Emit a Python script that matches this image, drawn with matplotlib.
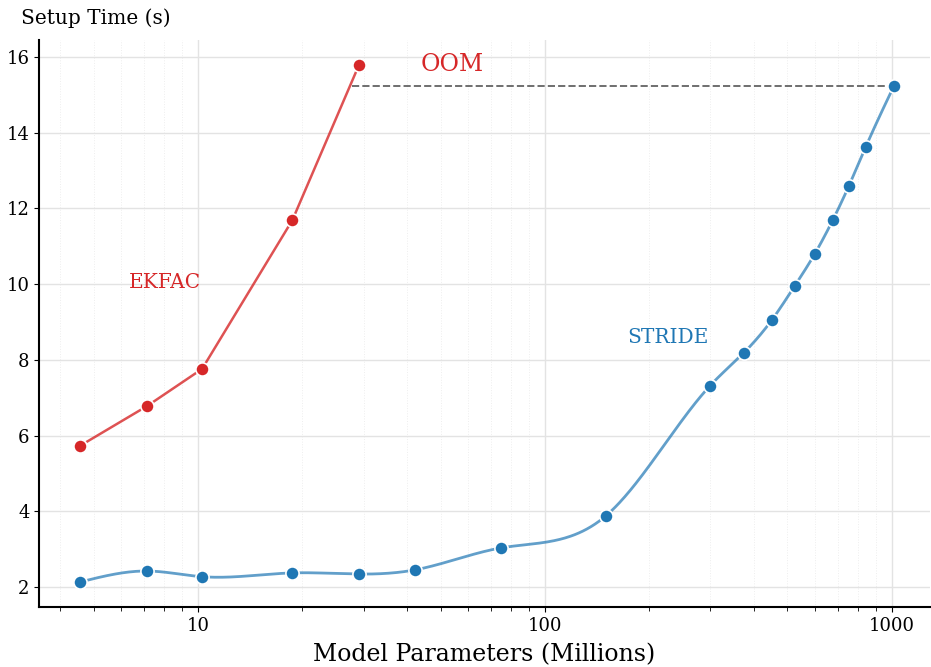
import numpy as np
import matplotlib.pyplot as plt
from matplotlib.ticker import FixedLocator, NullFormatter

plt.rcParams['font.family'] = 'DejaVu Serif'

# EKFAC runs out of memory past ~29M params
ekfac_params = [4.57, 7.13, 10.27, 18.7, 29.1]
ekfac_time = [5.73, 6.78, 7.76, 11.69, 15.79]

stride_params = [4.57, 7.13, 10.27, 18.7, 29.1, 42.2, 74.7, 150, 299, 374,
                 451, 525, 600, 676, 752, 841, 1014]
stride_time = [2.13, 2.42, 2.27, 2.37, 2.34, 2.45, 3.03, 3.88, 7.31, 8.18,
               9.05, 9.95, 10.80, 11.69, 12.59, 13.62, 15.23]

blue = '#1f77b4'
red = '#d62728'


def natural_spline(x, y, xs):
    """
    natural cubic spline through (x, y), evaluated at xs
    """
    x = np.asarray(x, float)
    y = np.asarray(y, float)
    n = len(x)
    h = np.diff(x)
    A = np.zeros((n, n))
    b = np.zeros(n)
    A[0, 0] = 1.0
    A[-1, -1] = 1.0
    for i in range(1, n - 1):
        A[i, i - 1] = h[i - 1]
        A[i, i] = 2 * (h[i - 1] + h[i])
        A[i, i + 1] = h[i]
        b[i] = 3 * ((y[i + 1] - y[i]) / h[i] - (y[i] - y[i - 1]) / h[i - 1])
    c = np.linalg.solve(A, b)
    bb = (y[1:] - y[:-1]) / h - h * (2 * c[:-1] + c[1:]) / 3
    d = (c[1:] - c[:-1]) / (3 * h)
    idx = np.clip(np.searchsorted(x, xs) - 1, 0, n - 2)
    dx = xs - x[idx]
    return y[idx] + bb[idx] * dx + c[idx] * dx**2 + d[idx] * dx**3


fig = plt.figure(figsize=(9.31, 6.67), dpi=100)
ax = fig.add_axes([0.042, 0.09, 0.957, 0.85])

lx = np.log10(stride_params)
xs = np.linspace(lx[0], lx[-1], 600)
ax.plot(10**xs, natural_spline(lx, stride_time, xs), color=blue, alpha=0.7,
        lw=2, zorder=2)
ax.plot(stride_params, stride_time, 'o', color=blue, ms=9.5,
        markeredgecolor='white', markeredgewidth=1.2, zorder=3)

ax.plot(ekfac_params, ekfac_time, '-', color=red, alpha=0.8, lw=1.8, zorder=2)
ax.plot(ekfac_params, ekfac_time, 'o', color=red, ms=9.5,
        markeredgecolor='white', markeredgewidth=1.2, zorder=3)

# OOM gap line, starts just left of the last EKFAC point
ax.plot([ekfac_params[-1] * 0.955, stride_params[-1]],
        [stride_time[-1], stride_time[-1]],
        '--', color='#555555', lw=1.4, alpha=0.85, zorder=1)

ax.text(54, 15.8, 'OOM', color=red, fontsize=17, ha='center', va='center')
ax.text(8.03, 10.03, 'EKFAC', color=red, fontsize=14.5, ha='center', va='center')
ax.text(226, 8.58, 'STRIDE', color=blue, fontsize=14.5, ha='center', va='center')

ax.set_xscale('log')
ax.set_xlim(3.48, 1290)
ax.set_ylim(1.47, 16.45)
ax.xaxis.set_major_locator(FixedLocator([10, 100, 1000]))
ax.set_xticklabels(['10', '100', '1000'])
ax.xaxis.set_minor_formatter(NullFormatter())
ax.set_yticks([2, 4, 6, 8, 10, 12, 14, 16])
ax.tick_params(labelsize=13)
ax.tick_params(axis='x', which='minor', length=3)

ax.grid(True, which='major', color='#e3e3e3', lw=1)
ax.grid(True, which='minor', axis='x', color='#eeeeee', lw=0.7, ls=':')
ax.set_axisbelow(True)

for s in ['top', 'right']:
    ax.spines[s].set_visible(False)
for s in ['left', 'bottom']:
    ax.spines[s].set_linewidth(1.5)

ax.set_xlabel('Model Parameters (Millions)', fontsize=17, labelpad=6)
fig.text(0.023, 0.973, 'Setup Time (s)', fontsize=14.5, ha='left', va='center')

fig.savefig('out.png', dpi=100)
